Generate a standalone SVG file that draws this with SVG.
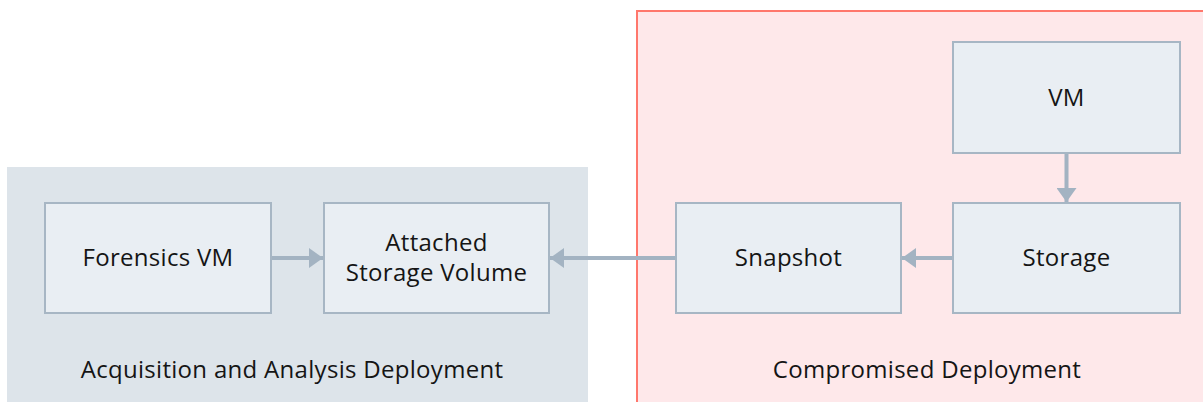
<svg xmlns="http://www.w3.org/2000/svg" width="1203" height="402" viewBox="0 0 1203 402">
  <style>
    .node rect { fill: #e9eef3; stroke: #a7b6c4; stroke-width: 2; }
    .label { font-family: "Open Sans", "Liberation Sans", sans-serif; font-size: 24px; letter-spacing: 0.3px; fill: #151515; text-anchor: middle; }
    .edge { stroke: #a3b3c2; stroke-width: 4; fill: none; }
  </style>
  <defs>
    <marker id="head" viewBox="0 0 14 20" refX="14" refY="10" markerWidth="14" markerHeight="20" markerUnits="userSpaceOnUse" orient="auto">
      <path d="M0,0 L14,10 L0,20 Z" fill="#a3b3c2"/>
    </marker>
  </defs>

  <!-- Deployment regions -->
  <g id="acquisition-deployment">
    <rect x="7" y="167" width="581" height="240" fill="#dde4ea"/>
    <text class="label" x="292" y="378">Acquisition and Analysis Deployment</text>
  </g>
  <g id="compromised-deployment">
    <rect x="637" y="11" width="570" height="400" fill="#fee8ea" stroke="#ff776c" stroke-width="2"/>
    <text class="label" x="927" y="378">Compromised Deployment</text>
  </g>

  <!-- Nodes -->
  <g id="forensics-vm" class="node">
    <rect x="45" y="203" width="226" height="110"/>
    <text class="label" x="158" y="266">Forensics VM</text>
  </g>
  <g id="attached-storage" class="node">
    <rect x="324" y="203" width="225" height="110"/>
    <text class="label" x="436.5" y="251">Attached</text>
    <text class="label" x="436.5" y="281">Storage Volume</text>
  </g>
  <g id="snapshot" class="node">
    <rect x="676" y="203" width="225" height="110"/>
    <text class="label" x="788.5" y="266">Snapshot</text>
  </g>
  <g id="storage" class="node">
    <rect x="953" y="203" width="227" height="110"/>
    <text class="label" x="1066.5" y="266">Storage</text>
  </g>
  <g id="vm" class="node">
    <rect x="953" y="42" width="227" height="111"/>
    <text class="label" x="1066.5" y="106">VM</text>
  </g>

  <!-- Connectors -->
  <g id="connectors">
    <line class="edge" x1="1066.5" y1="154" x2="1066.5" y2="202" marker-end="url(#head)"/>
    <line class="edge" x1="952" y1="258" x2="902" y2="258" marker-end="url(#head)"/>
    <line class="edge" x1="675" y1="258" x2="550" y2="258" marker-end="url(#head)"/>
    <line class="edge" x1="272" y1="258" x2="323" y2="258" marker-end="url(#head)"/>
  </g>
</svg>
